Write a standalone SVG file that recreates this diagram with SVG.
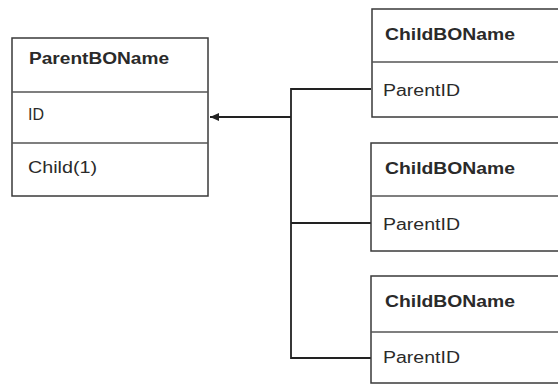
<svg xmlns="http://www.w3.org/2000/svg" width="558" height="384" viewBox="0 0 558 384">
<style>
.box{fill:#fff;stroke:#3a3a3a;stroke-width:1.5}
.div{stroke:#555;stroke-width:1.5}
.t{font-family:"Liberation Sans",Arial,sans-serif;font-size:16px;fill:#2a2a2a}
.b{font-weight:bold}
.c{fill:none;stroke:#222;stroke-width:1.8}
</style>
<defs>
<marker id="ah" markerWidth="10" markerHeight="10" refX="9" refY="4" orient="auto" markerUnits="userSpaceOnUse">
<path d="M0,0 L9,4 L0,8 Z" fill="#222"/>
</marker>
</defs>
<g id="connectors">
<path class="c" d="M371,89 H291 V358 H371"/>
<path class="c" d="M291,223 H371"/>
<path class="c" d="M291,117 H210" marker-end="url(#ah)"/>
</g>
<g id="parent">
<rect class="box" x="12" y="38" width="196" height="158"/>
<line class="div" x1="12" y1="92" x2="208" y2="92"/>
<line class="div" x1="12" y1="143" x2="208" y2="143"/>
<text class="t b" x="29" y="64" textLength="140" lengthAdjust="spacingAndGlyphs">ParentBOName</text>
<text class="t" x="28" y="120">ID</text>
<text class="t" x="28" y="173" textLength="69" lengthAdjust="spacingAndGlyphs">Child(1)</text>
</g>
<g id="child1">
<rect class="box" x="372" y="9" width="200" height="108"/>
<line class="div" x1="372" y1="62" x2="572" y2="62"/>
<text class="t b" x="385" y="40" textLength="130" lengthAdjust="spacingAndGlyphs">ChildBOName</text>
<text class="t" x="383" y="96" textLength="77" lengthAdjust="spacingAndGlyphs">ParentID</text>
</g>
<g id="child2">
<rect class="box" x="371" y="143" width="200" height="108"/>
<line class="div" x1="371" y1="196" x2="571" y2="196"/>
<text class="t b" x="385" y="174" textLength="130" lengthAdjust="spacingAndGlyphs">ChildBOName</text>
<text class="t" x="383" y="230" textLength="77" lengthAdjust="spacingAndGlyphs">ParentID</text>
</g>
<g id="child3">
<rect class="box" x="371" y="276" width="200" height="107"/>
<line class="div" x1="371" y1="332" x2="571" y2="332"/>
<text class="t b" x="385" y="307" textLength="130" lengthAdjust="spacingAndGlyphs">ChildBOName</text>
<text class="t" x="383" y="363" textLength="77" lengthAdjust="spacingAndGlyphs">ParentID</text>
</g>
</svg>
